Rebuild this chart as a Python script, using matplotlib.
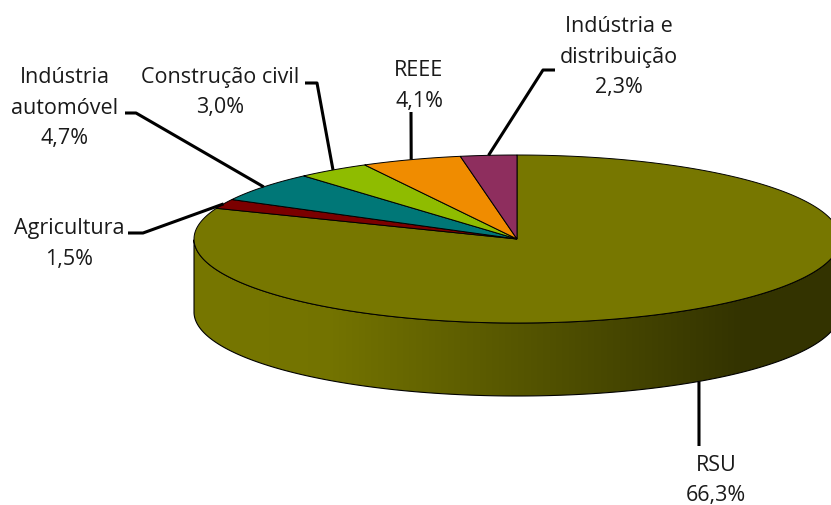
import numpy as np
import matplotlib.pyplot as plt
from matplotlib.patches import Polygon

# waste streams and their shares (%)
categories = ["RSU", "Agricultura", "Indústria automóvel", "Construção civil",
              "REEE", "Indústria e distribuição"]
shares = [66.3, 1.5, 4.7, 3.0, 4.1, 2.3]
label_lines = [["RSU"], ["Agricultura"], ["Indústria", "automóvel"],
               ["Construção civil"], ["REEE"], ["Indústria e", "distribuição"]]
colors = ["#777700", "#7b0000", "#007777", "#8fbc00", "#f08c00", "#8e2e5e"]

# label placement (pixel coords): text centre x, first baseline y, leader path from text side
label_layout = [
    dict(x=716, y=471, path=[(699, 446)]),
    dict(x=69, y=234, path=[(128, 233), (143, 233)]),
    dict(x=65, y=83, path=[(125, 113), (136, 113)]),
    dict(x=220, y=83, path=[(305, 83), (317, 83)]),
    dict(x=419, y=76, path=[(411, 112)]),
    dict(x=619, y=32, path=[(555, 70), (543, 70)]),
]
line_step = 30.5

W, H = 831, 505
cx, cy = 517, 239        # centre of the top face
ra, rb = 323, 84         # ellipse radii
depth = 73               # thickness of the disc

fig = plt.figure(figsize=(W / 100, H / 100), dpi=100)
ax = fig.add_axes([0, 0, 1, 1])
ax.axis("off")


def ell(t, dy=0.0):
    t = np.radians(t)
    return np.column_stack([cx + ra * np.cos(t), cy - rb * np.sin(t) + dy])


def side_shade(x):
    return np.interp(x, [190, 330, 740, 845], [1.0, 0.97, 0.43, 0.43])


spans = np.array(shares) / np.sum(shares) * 360.0
starts = 90.0 - np.concatenate([[0], np.cumsum(spans)[:-1]])   # clockwise from 12 o'clock

# side walls (front half only)
for start, span, col in zip(starts, spans, colors):
    ts = np.linspace(start, start - span, 600)
    front = np.sin(np.radians(ts)) <= 1e-9
    if not front.any():
        continue
    idx = np.where(front)[0]
    runs = np.split(idx, np.where(np.diff(idx) > 1)[0] + 1)
    base = np.array(plt.matplotlib.colors.to_rgb(col))
    for run in runs:
        tr = ts[run]
        top = ell(tr)
        bot = ell(tr[::-1], depth)
        pts = np.vstack([top, bot])
        poly = Polygon(pts, closed=True, facecolor="none", edgecolor="black",
                       lw=0.8, zorder=3)
        ax.add_patch(poly)
        x0, x1 = pts[:, 0].min(), pts[:, 0].max()
        y0, y1 = pts[:, 1].min(), pts[:, 1].max()
        xs = np.arange(np.floor(x0), np.ceil(x1) + 1)
        img = base[None, None, :] * side_shade(xs)[None, :, None]
        im = ax.imshow(img, extent=(xs[0], xs[-1], y1, y0), aspect="auto",
                       interpolation="bilinear", zorder=2)
        clip = Polygon(pts, closed=True, transform=ax.transData)
        im.set_clip_path(clip)

# top face slices
for start, span, col in zip(starts, spans, colors):
    arc = ell(np.linspace(start, start - span, 300))
    pts = np.vstack([[cx, cy], arc])
    ax.add_patch(Polygon(pts, closed=True, facecolor=col, edgecolor="black",
                         lw=0.7, zorder=4))

# labels and leader lines
for start, span, lines, val, lay in zip(starts, spans, label_lines, shares, label_layout):
    mid = start - span / 2
    ax_pt = ell([mid])[0]
    if np.sin(np.radians(mid)) < 0:
        ax_pt[1] += depth
    path = np.array(lay["path"] + [tuple(ax_pt)])
    ax.plot(path[:, 0], path[:, 1], color="black", lw=2.2, zorder=5,
            solid_capstyle="butt")
    txt = lines + [f"{val:.1f}%".replace(".", ",")]
    for k, s in enumerate(txt):
        ax.text(lay["x"], lay["y"] + k * line_step, s, ha="center", va="baseline",
                fontsize=15.5, family="Open Sans", color="#1a1a1a", zorder=6)

ax.set_xlim(0, W)
ax.set_ylim(H, 0)
fig.savefig("out.png", dpi=100, facecolor="white")
